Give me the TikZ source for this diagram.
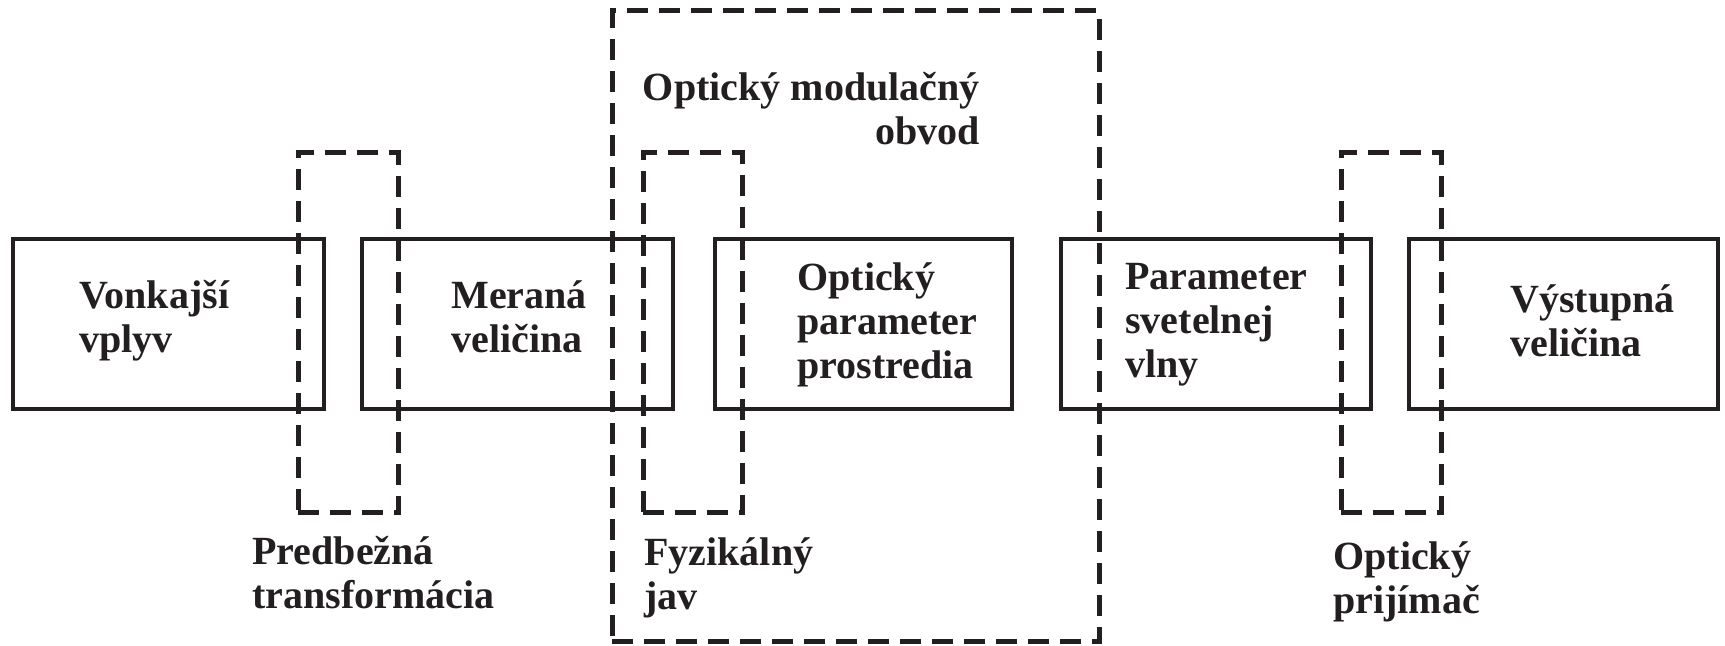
\documentclass[tikz,border=0pt]{standalone}
\usepackage{fontspec}
\setmainfont{Liberation Serif}
\usetikzlibrary{fit}
\definecolor{ink}{RGB}{35,31,32}
\begin{document}
\begin{tikzpicture}[x=0.5pt,y=-0.5pt,
  blk/.style={draw=ink, line width=1.75pt, inner sep=0pt, rectangle},
  frame/.style={draw=ink, line width=2.5pt, dash pattern=on 10.5pt off 5.5pt, inner sep=0pt, rectangle},
  lbl/.style={text=ink, font=\bfseries\fontsize{20pt}{22pt}\selectfont, inner sep=0pt, align=left, anchor=base west}]
\useasboundingbox (0,0) rectangle (1725,646);

% solid blocks of the measurement chain
\node[blk, fit={(13,239) (324,409)}] (b1) {};
\node[blk, fit={(362,239) (673,409)}] (b2) {};
\node[blk, fit={(715,239) (1012,409)}] (b3) {};
\node[blk, fit={(1061,239) (1371,409)}] (b4) {};
\node[blk, fit={(1409,239) (1718,409)}] (b5) {};

% dashed frames of the conversion stages
\node[frame, fit={(298,153) (398,513)}] (d1) {};
\node[frame, fit={(643,153) (742,513)}] (d2) {};
\node[frame, fit={(1341,153) (1441,513)}] (d3) {};
\node[frame, fit={(612,11) (1099,641)}] (mod) {};

% block texts (positioned at the baseline of their last line)
\node[lbl] (t1) at (79,353) {Vonkajší\\vplyv};
\node[lbl] (t2) at (451,353) {Meraná\\veličina};
\node[lbl] (t3) at (797,379) {Optický\\parameter\\prostredia};
\node[lbl] (t4) at (1125,378) {Parameter\\svetelnej\\vlny};
\node[lbl] (t5) at (1510,357) {Výstupná\\veličina};

% frame captions
\node[lbl, align=right, anchor=base east] (tm) at (980,145) {Optický modulačný\\obvod};
\node[lbl] (c1) at (252,609) {Predbežná\\transformácia};
\node[lbl] (c2) at (644,610) {Fyzikálný\\jav};
\node[lbl] (c3) at (1333,613) {Optický\\prijímač};
\end{tikzpicture}
\end{document}
